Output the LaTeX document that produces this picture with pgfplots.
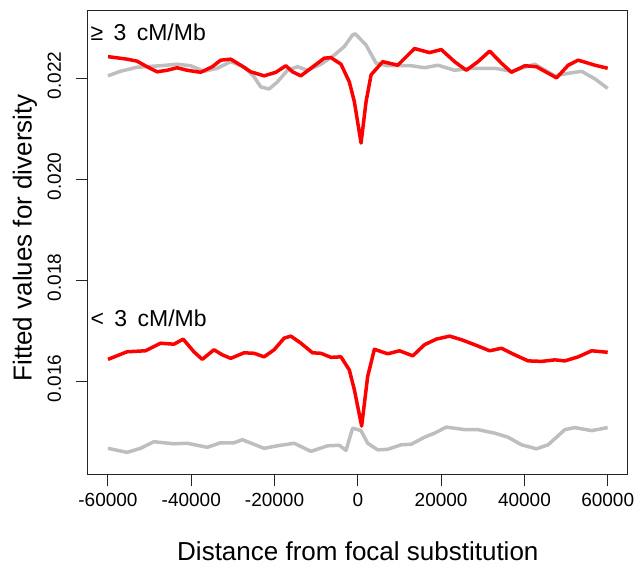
\documentclass[border=0pt]{standalone}
\usepackage{fontspec}
\setmainfont{Liberation Sans}
\usepackage{pgfplots}
\pgfplotsset{compat=1.18}

\definecolor{rred}{HTML}{FF0000}
\definecolor{rgrey}{HTML}{BEBEBE}

\begin{document}
\begin{tikzpicture}
\useasboundingbox (-88pt,-92.7pt) rectangle (547pt,474.3pt);
\begin{axis}[
  scale only axis,
  width=539.7pt, height=463.6pt,
  xmin=-64800, xmax=64800,
  ymin=0.014166, ymax=0.023339,
  clip=false,
  axis line style={black!85, line width=1pt},
  tick style={black!85, line width=1pt},
  major tick length=12pt,
  tick align=outside,
  xtick pos=bottom, ytick pos=left,
  xtick={-60000,-40000,-20000,0,20000,40000,60000},
  xticklabels={-60000,-40000,-20000,0,20000,40000,60000},
  ytick={0.016,0.018,0.020,0.022},
  yticklabels={0.016,0.018,0.020,0.022},
  scaled ticks=false,
  tick label style={font=\fontsize{19}{22}\selectfont},
  xticklabel style={anchor=base, yshift=-20.4pt},
  yticklabel style={xshift=-15pt, yshift=3pt, rotate=90, anchor=base},
  xlabel={Distance from focal substitution},
  ylabel={Fitted values for diversity},
  label style={font=\fontsize{26}{29}\selectfont},
  xlabel style={at={(axis description cs:0.5,0)}, anchor=base, yshift=-86.4pt},
  ylabel style={at={(axis description cs:-0.1043,0.51)}, anchor=base, rotate=0},
]
% >= 3 cM/Mb
\addplot[rgrey, line width=3.5pt, line join=round] coordinates {
(-60000,0.02205)(-57012,0.02214)(-53015,0.02222)(-47382,0.02225)(-43385,0.02228)(-40159,0.02225)(-36957,0.02214)(-33755,0.02220)(-30528,0.02233)(-27326,0.02223)(-24919,0.02203)(-23306,0.02183)(-21307,0.02179)(-19309,0.02193)(-16901,0.02216)(-14494,0.02223)(-12086,0.02216)(-8860,0.02228)(-5658,0.02246)(-3250,0.02263)(-1252,0.02286)(-600,0.02288)(1974,0.02266)(4382,0.02230)(7175,0.02225)(12808,0.02225)(16011,0.02221)(19213,0.02226)(23233,0.02216)(27254,0.02220)(32864,0.02220)(36884,0.02214)(42494,0.02228)(47309,0.02205)(50511,0.02210)(53738,0.02214)(56940,0.02199)(60000,0.02180)
};
\addplot[rred, line width=3.5pt, line join=round] coordinates {
(-60000,0.02243)(-55423,0.02238)(-53015,0.02234)(-50608,0.02223)(-48200,0.02213)(-45793,0.02216)(-43385,0.02221)(-40977,0.02216)(-37751,0.02212)(-34958,0.02223)(-32936,0.02236)(-30528,0.02238)(-28121,0.02226)(-25713,0.02213)(-22511,0.02205)(-19694,0.02212)(-17287,0.02225)(-15698,0.02213)(-13675,0.02205)(-11268,0.02220)(-8065,0.02240)(-6452,0.02241)(-4045,0.02228)(-2046,0.02193)(-843,0.02154)(770,0.02072)(1974,0.02154)(3178,0.02207)(5971,0.02233)(9582,0.02226)(13603,0.02259)(17214,0.02251)(20031,0.02257)(23233,0.02233)(26050,0.02216)(28843,0.02233)(31660,0.02254)(34477,0.02230)(36884,0.02212)(40087,0.02225)(42903,0.02223)(45311,0.02212)(47719,0.02201)(50511,0.02226)(52919,0.02236)(56940,0.02226)(60000,0.02220)
};
% < 3 cM/Mb
\addplot[rgrey, line width=3.5pt, line join=round] coordinates {
(-60000,0.01468)(-55423,0.01460)(-52197,0.01468)(-48995,0.01481)(-44179,0.01477)(-40977,0.01478)(-36162,0.01470)(-32936,0.01479)(-29734,0.01479)(-27736,0.01485)(-22511,0.01468)(-19309,0.01473)(-15288,0.01478)(-11268,0.01462)(-7271,0.01473)(-4454,0.01474)(-2841,0.01464)(-1252,0.01508)(770,0.01503)(2359,0.01478)(4767,0.01465)(7175,0.01466)(10401,0.01475)(12808,0.01476)(16011,0.01490)(18418,0.01498)(21235,0.01510)(25641,0.01505)(28843,0.01505)(32864,0.01498)(36066,0.01490)(39292,0.01475)(42903,0.01467)(45696,0.01475)(49717,0.01505)(52125,0.01509)(56145,0.01503)(60000,0.01509)
};
\addplot[rred, line width=3.5pt, line join=round] coordinates {
(-60000,0.01644)(-55423,0.01659)(-50993,0.01661)(-47382,0.01676)(-44179,0.01674)(-41940,0.01684)(-39364,0.01659)(-37366,0.01644)(-34549,0.01663)(-32551,0.01653)(-30528,0.01646)(-27326,0.01657)(-24919,0.01656)(-22511,0.01649)(-20103,0.01663)(-17696,0.01686)(-16083,0.01690)(-13675,0.01676)(-10882,0.01657)(-8860,0.01656)(-6452,0.01648)(-4045,0.01649)(-2046,0.01623)(-843,0.01584)(915,0.01512)(2359,0.01610)(3973,0.01664)(7175,0.01655)(9992,0.01661)(13194,0.01651)(16011,0.01673)(18827,0.01684)(22030,0.01690)(24846,0.01683)(28049,0.01673)(31660,0.01661)(34477,0.01666)(37679,0.01653)(40881,0.01641)(44107,0.01640)(47309,0.01643)(49717,0.01641)(52919,0.01649)(56145,0.01661)(60000,0.01658)
};
\node[anchor=base west, inner sep=0pt, font=\fontsize{23}{26}\selectfont] at (axis cs:-64200,0.02274) {≥\hspace{0.45em}3\hspace{0.45em}cM/Mb};
\node[anchor=base west, inner sep=0pt, font=\fontsize{23}{26}\selectfont] at (axis cs:-64200,0.01710) {<\hspace{0.45em}3\hspace{0.45em}cM/Mb};
\end{axis}
\end{tikzpicture}
\end{document}
